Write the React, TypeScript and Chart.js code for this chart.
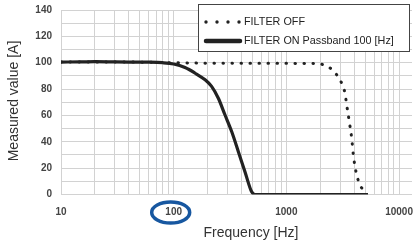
import React, { useEffect, useRef } from "react";
import { Chart, registerables } from "chart.js";
Chart.register(...registerables);

// ---- data ----
const filterOnFreq = [10, 15, 20, 30, 40, 60, 80, 100, 126, 154, 190, 217, 249, 285, 327, 375, 429, 492, 526, 1000, 3000, 5300];
const filterOnValue = [100.5, 100.6, 100.8, 100.6, 100.5, 100.4, 100, 99, 96.3, 92.2, 87, 82, 73, 60.5, 47.8, 32.5, 17.3, 2, 0, 0, 0, 0];
const filterOffFreq = [10, 20, 50, 100, 200, 500, 1000, 1600, 2000, 2440, 2790, 3090, 3310, 3430, 3615, 3800, 3930, 4150, 4500, 4990, 5100];
const filterOffValue = [100.5, 100.6, 100.4, 100, 99.6, 99.5, 99.5, 99.4, 99, 96, 91, 84.6, 77, 68, 55.4, 42.7, 30, 17.3, 7.2, 2, 0];

const xGridValues = [10, 20, 30, 40, 50, 60, 70, 80, 90, 100, 200, 300, 400, 500, 600, 700, 800, 900, 1000, 2000, 3000, 4000, 5000, 6000, 7000, 8000, 9000, 10000];
const xTickLabels = [10, 100, 1000, 10000];
const yLabelStep = 20;

const seriesNames = ["FILTER OFF", "FILTER ON Passband 100 [Hz]"];
const xTitle = "Frequency [Hz]";
const yTitle = "Measured value [A]";
const highlightedTick = 100;

const overlayPlugin = {
  id: "overlay",
  afterDatasetsDraw(chart: any) {
    const ctx = chart.ctx as CanvasRenderingContext2D;
    ctx.save();
    // axis titles
    ctx.fillStyle = "#333";
    ctx.font = "14px 'Liberation Sans', Arial, sans-serif";
    ctx.textAlign = "center";
    ctx.textBaseline = "middle";
    ctx.fillText(xTitle, 251, 233);
    ctx.save();
    ctx.translate(14.5, 101);
    ctx.rotate(-Math.PI / 2);
    ctx.fillText(yTitle, 0, 0);
    ctx.restore();

    // legend box
    ctx.fillStyle = "#fff";
    ctx.fillRect(198.5, 4.5, 211, 47);
    ctx.strokeStyle = "#444";
    ctx.lineWidth = 1;
    ctx.strokeRect(198.5, 4.5, 211, 47);
    // dotted sample
    ctx.fillStyle = "#222";
    [206, 217, 228, 239].forEach((x) => {
      ctx.beginPath();
      ctx.arc(x, 22, 1.7, 0, Math.PI * 2);
      ctx.fill();
    });
    // solid sample
    ctx.strokeStyle = "#222";
    ctx.lineWidth = 4.5;
    ctx.lineCap = "round";
    ctx.beginPath();
    ctx.moveTo(206, 41);
    ctx.lineTo(240, 41);
    ctx.stroke();
    ctx.fillStyle = "#222";
    ctx.font = "10.8px 'Liberation Sans', Arial, sans-serif";
    ctx.textAlign = "left";
    ctx.fillText(seriesNames[0], 244, 22.5);
    ctx.fillText(seriesNames[1], 244, 41.5);

    // highlight ellipse around a tick label
    const xs = chart.scales.x;
    const cx = xs.getPixelForValue(highlightedTick) - 3;
    ctx.strokeStyle = "#1757a0";
    ctx.lineWidth = 3.5;
    ctx.beginPath();
    ctx.ellipse(cx, 212.5, 19, 10.5, 0, 0, Math.PI * 2);
    ctx.stroke();
    ctx.restore();
  },
};

export default function App() {
  const ref = useRef<HTMLCanvasElement>(null);
  useEffect(() => {
    document.body.style.margin = "0";
    const canvas = ref.current!;
    const chart = new Chart(canvas, {
      type: "line",
      data: {
        datasets: [
          {
            label: seriesNames[0],
            data: filterOffFreq.map((f, i) => ({ x: f, y: filterOffValue[i] })),
            borderColor: "#222",
            borderWidth: 3,
            borderDash: [0.5, 8.5],
            borderCapStyle: "round",
            pointRadius: 0,
            cubicInterpolationMode: "monotone",
            fill: false,
          },
          {
            label: seriesNames[1],
            data: filterOnFreq.map((f, i) => ({ x: f, y: filterOnValue[i] })),
            borderColor: "#222",
            borderWidth: 3.2,
            pointRadius: 0,
            cubicInterpolationMode: "monotone",
            fill: false,
          },
        ],
      },
      options: {
        responsive: false,
        animation: false,
        layout: { padding: { top: 10, right: 4, left: 0, bottom: 0 } },
        plugins: { legend: { display: false }, tooltip: { enabled: false }, title: { display: false } },
        scales: {
          x: {
            type: "logarithmic",
            min: 10,
            max: 13030,
            afterBuildTicks: (scale: any) => {
              scale.ticks = xGridValues.map((v) => ({ value: v }));
            },
            afterFit: (scale: any) => {
              scale.height = 46.5;
              scale.paddingLeft = 0;
              scale.paddingRight = 0;
            },
            grid: { color: "#d2d2d2", lineWidth: 1, drawTicks: false },
            border: { display: false },
            ticks: {
              autoSkip: false,
              maxRotation: 0,
              padding: 12,
              color: "#444",
              font: { size: 10, family: "'Liberation Sans', Arial, sans-serif", weight: "bold" },
              callback: (v: any) => (xTickLabels.includes(Number(v)) ? String(v) : ""),
            },
          },
          y: {
            min: 0,
            max: 140,
            afterFit: (scale: any) => {
              scale.width = 61;
              scale.paddingTop = 0;
              scale.paddingBottom = 0;
            },
            grid: { color: "#d2d2d2", lineWidth: 1, drawTicks: false },
            border: { display: false },
            ticks: {
              stepSize: 10,
              autoSkip: false,
              padding: 9,
              color: "#444",
              font: { size: 10, family: "'Liberation Sans', Arial, sans-serif", weight: "bold" },
              callback: (v: any) => (Number(v) % yLabelStep === 0 ? String(v) : ""),
            },
          },
        },
      },
      plugins: [overlayPlugin],
    } as any);
    return () => chart.destroy();
  }, []);
  return (
    <div style={{ width: 416, height: 241, background: "#fff" }}>
      <canvas ref={ref} width={416} height={241} style={{ display: "block" }} />
    </div>
  );
}
